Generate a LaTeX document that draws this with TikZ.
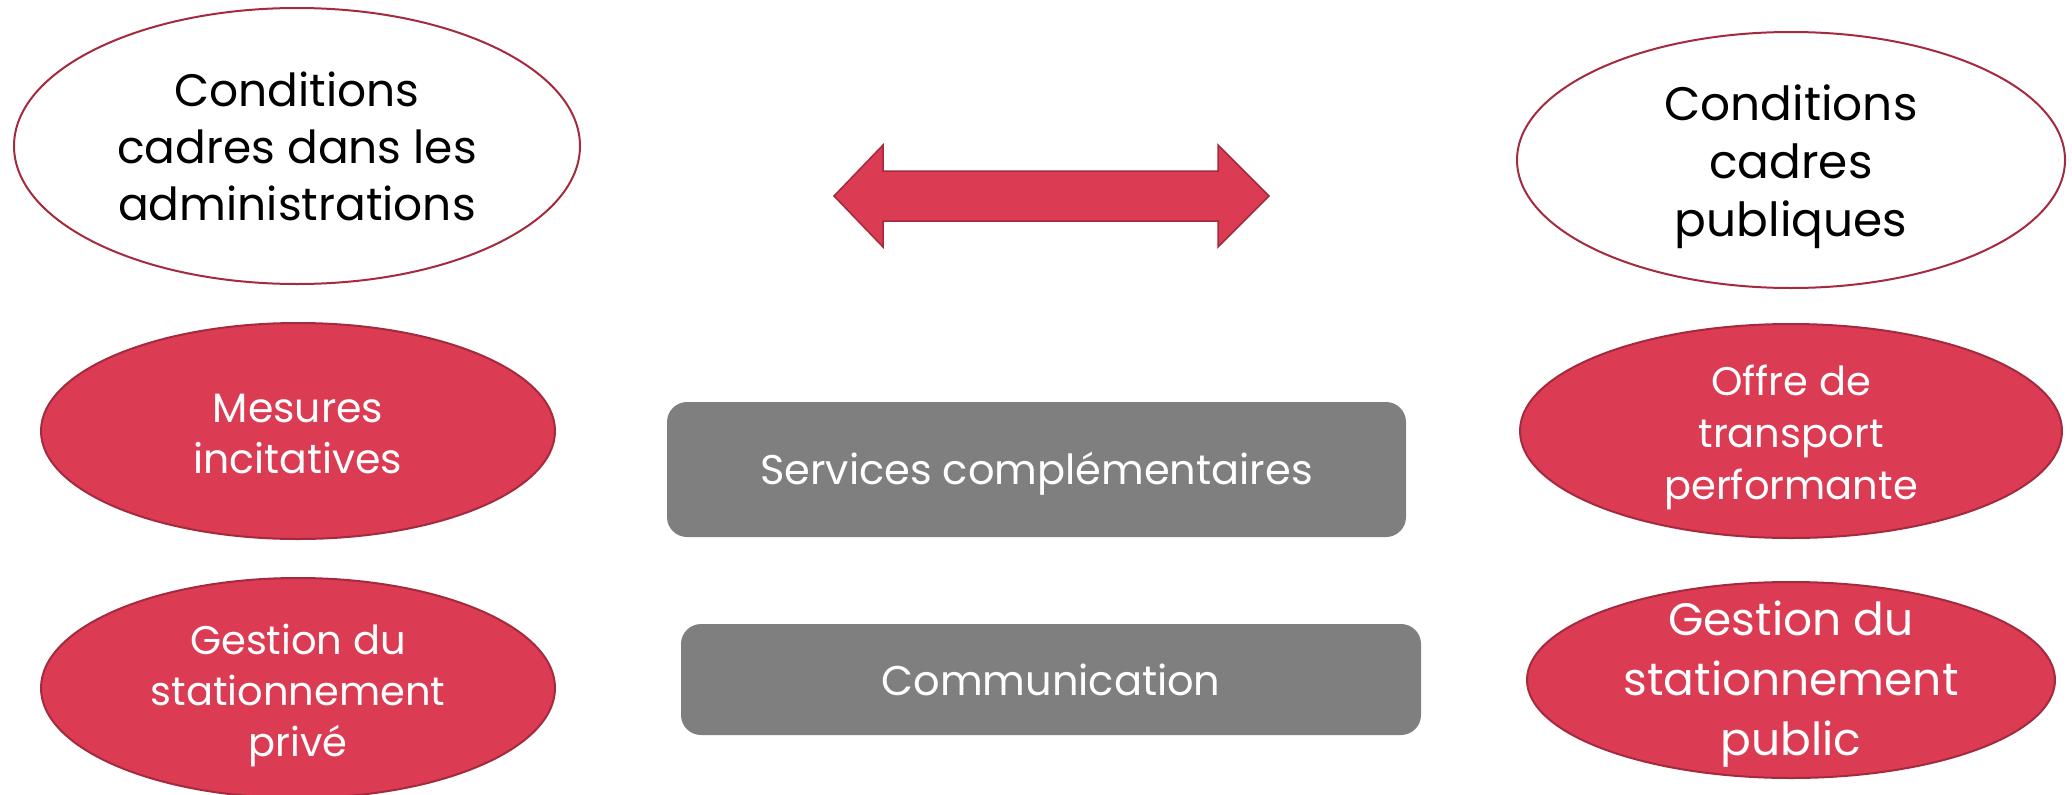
\documentclass[tikz,border=0pt]{standalone}
\usepackage{fontspec}
\setmainfont{Poppins}
\usetikzlibrary{shapes.geometric}
\definecolor{myred}{HTML}{DC3B54}
\definecolor{myborder}{HTML}{A42A3E}
\definecolor{mygray}{HTML}{7F7F7F}
\begin{document}
\begin{tikzpicture}[x=1pt,y=-1pt,
  whiteell/.style={ellipse,draw=myborder,line width=2pt,fill=white,inner sep=0pt},
  redell/.style={ellipse,draw=myborder,line width=2pt,fill=myred,inner sep=0pt},
  graybox/.style={rectangle,rounded corners=20pt,fill=mygray,inner sep=0pt},
  blacktxt/.style={align=center,text=black,inner sep=0pt},
  whitetxt/.style={align=center,text=white,inner sep=0pt}]
\useasboundingbox (0,0) rectangle (2072,795);
% top ellipses
\node[whiteell,minimum width=566pt,minimum height=276pt] (e1) at (297,146) {};
\node[blacktxt,font=\fontsize{45.5}{57}\selectfont] (t1) at (e1.center) {Conditions\\cadres dans les\\administrations};
\node[whiteell,minimum width=548pt,minimum height=256pt] (e2) at (1791,160) {};
\node[blacktxt,font=\fontsize{47}{58}\selectfont] (t2) at ([yshift=-7pt]e2.center) {Conditions\\cadres\\publiques};
% double arrow
\draw[fill=myred,draw=myborder,line width=1.5pt]
  (834,196) -- (883,145) -- (883,171) -- (1218,171) -- (1218,145) -- (1269,196)
  -- (1218,247) -- (1218,221) -- (883,221) -- (883,247) -- cycle;
% red ellipses
\node[redell,minimum width=514pt,minimum height=216pt] (e3) at (298,431) {};
\node[whitetxt,font=\fontsize{41}{51}\selectfont] (t3) at ([yshift=-3pt]e3.center) {Mesures\\incitatives};
\node[redell,minimum width=514pt,minimum height=220pt] (e4) at (298,688) {};
\node[whitetxt,font=\fontsize{40}{51}\selectfont] (t4) at ([yshift=-7pt]e4.center) {Gestion du\\stationnement\\privé};
\node[redell,minimum width=542pt,minimum height=214pt] (e5) at (1791,431) {};
\node[whitetxt,font=\fontsize{40}{52}\selectfont] (t5) at ([yshift=-6pt]e5.center) {Offre de\\transport\\performante};
\node[redell,minimum width=528pt,minimum height=196pt] (e6) at (1791,680) {};
\node[whitetxt,font=\fontsize{45.5}{60}\selectfont] (t6) at ([yshift=-4.5pt]e6.center) {Gestion du\\stationnement\\public};
% gray boxes
\node[graybox,minimum width=739pt,minimum height=135pt] (b1) at (1036.5,469.5) {};
\node[whitetxt,font=\fontsize{41.5}{50}\selectfont] (bt1) at ([yshift=-4pt]b1.center) {Services complémentaires};
\node[graybox,minimum width=740pt,minimum height=111pt] (b2) at (1051,679.5) {};
\node[whitetxt,font=\fontsize{41.5}{50}\selectfont] (bt2) at (b2.center) {Communication};
\end{tikzpicture}
\end{document}
